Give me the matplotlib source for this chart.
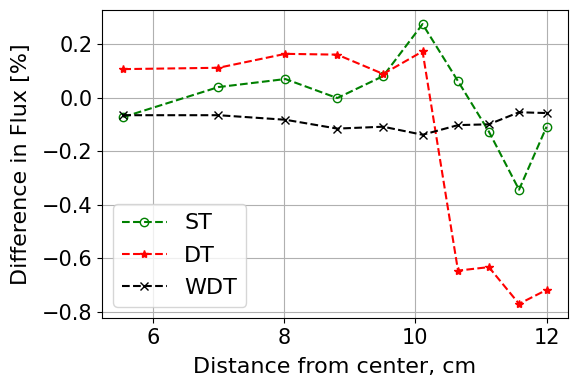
import matplotlib
matplotlib.use("Agg")
import matplotlib.pyplot as plt

# distance from center (cm)
dist = [5.55, 7.0, 8.02, 8.81, 9.51, 10.11, 10.65, 11.12, 11.58, 12.0]

# difference in flux [%]
st = [-0.073, 0.039, 0.069, -0.002, 0.080, 0.274, 0.061, -0.127, -0.344, -0.109]
dt = [0.106, 0.111, 0.163, 0.160, 0.088, 0.172, -0.646, -0.633, -0.770, -0.718]
wdt = [-0.066, -0.066, -0.083, -0.116, -0.109, -0.139, -0.103, -0.100, -0.055, -0.058]

fig, ax = plt.subplots(figsize=(5.77, 3.89), dpi=100)
fig.subplots_adjust(left=0.177, right=0.984, top=0.974, bottom=0.183)

ax.plot(dist, st, 'g--o', markerfacecolor='none', label='ST')
ax.plot(dist, dt, 'r--*', label='DT')
ax.plot(dist, wdt, 'k--x', label='WDT')

ax.set_xlabel("Distance from center, cm", fontsize=16, labelpad=7)
ax.set_ylabel("Difference in Flux [%]", fontsize=16, labelpad=8)
ax.set_xticks([6, 8, 10, 12])
ax.tick_params(labelsize=15)
ax.grid(True)
ax.legend(loc='lower left', fontsize=16, labelspacing=0.55)

fig.savefig("out.png")
